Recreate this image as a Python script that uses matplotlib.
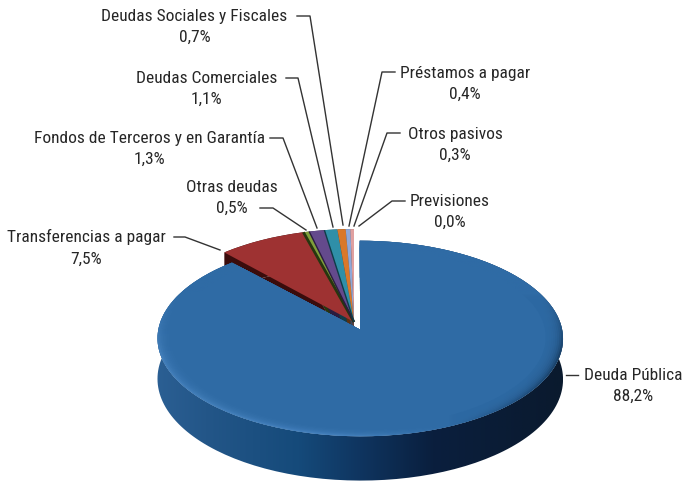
import numpy as np
import matplotlib
matplotlib.use("Agg")
from matplotlib import pyplot as plt
from matplotlib.colors import LinearSegmentedColormap, to_rgb
from matplotlib.patches import PathPatch, Polygon
from matplotlib.path import Path
from matplotlib.transforms import Transform
from matplotlib import font_manager

names = {f.name for f in font_manager.fontManager.ttflist}
narrow = "Roboto"
for n in ["Liberation Sans Narrow", "Roboto Condensed", "Open Sans Condensed", "Noto Sans Condensed"]:
    if n in names:
        narrow = n
        break
font_size = 12.5 if narrow != "Roboto" else 11.6

labels = ["Deuda Pública", "Transferencias a pagar", "Otras deudas",
          "Fondos de Terceros y en Garantía", "Deudas Comerciales",
          "Deudas Sociales y Fiscales", "Préstamos a pagar", "Otros pasivos", "Previsiones"]
values = [88.2, 7.5, 0.5, 1.3, 1.1, 0.7, 0.4, 0.3, 0.0]
colors = ["#2f6ba5", "#9e3232", "#7f9e3a", "#644a8c", "#2f8fa8", "#d9782a", "#8fa8d8", "#e0a0a0", "#c8d4e8"]
wall_colors = ["#173f6a", "#3a0c0c", "#26360f", "#2a1c40", "#103c48", "#5c3010", "#3c4860", "#604040", "#505868"]

# geometry of the fake 3d view, in pixels
x0, y0 = 354, 322
rx, depth = 200.5, 40
explode0 = 0.085


class Persp(Transform):
    input_dims = output_dims = 2

    def __init__(self, z=0, k=0.06, ry=98.5):
        super().__init__()
        self.z = z
        self.k = k
        self.ry = ry

    def transform_non_affine(self, xy):
        xy = np.asarray(xy, float)
        w = 1 + self.k * xy[:, 1]
        return np.column_stack([x0 + rx * xy[:, 0] / w, y0 + (self.z * depth - self.ry * xy[:, 1]) / w])


fig = plt.figure(figsize=(6.84, 4.83), dpi=100)
ax = fig.add_axes([0, 0, 1, 1])
explode = [explode0] + [0] * (len(values) - 1)
wedges, _ = ax.pie(values, explode=explode, colors=colors, startangle=90, counterclock=False,
                   radius=1, normalize=True, wedgeprops={"linewidth": 0})


def rim(w, r=1.0):
    t = np.radians(np.linspace(w.theta1, w.theta2, 200))
    cx, cy = w.center
    return np.column_stack([cx + r * np.cos(t), cy + r * np.sin(t)])


# side walls of the small slices first, the blue one covers most of it
base = Persp(0)
low = Persp(1)
for w, c in list(zip(wedges, wall_colors))[1:]:
    if w.theta2 - w.theta1 <= 0:
        continue
    top = np.vstack([[w.center], rim(w)])
    ring = np.vstack([base.transform(top), low.transform(top)[::-1]])
    ax.add_patch(Polygon(ring, closed=True, fc=c, ec="none", zorder=1))
    ax.add_patch(Polygon(low.transform(top), closed=True, fc=c, ec="none", zorder=1))

# blue slice sits a bit flatter at the back
blue = wedges[0]
blue_base = Persp(0, k=0.09, ry=95.6)
blue_low = Persp(1, k=0.09, ry=95.6)
p = rim(blue)
apex = np.array([blue.center])
wall = np.vstack([blue_base.transform(p), blue_low.transform(p)[::-1]])
wall_cm = LinearSegmentedColormap.from_list("w", [(0, "#2b5f93"), (0.12, "#235688"), (0.35, "#154a7a"),
                                                  (0.5, "#0f3560"), (0.68, "#0a1f3e"), (1, "#0a1a2e")])
grad = np.linspace(0, 1, 256)[None, :]
im = ax.imshow(grad, cmap=wall_cm, extent=[157, 563, 483, 240], aspect="auto", zorder=2)
clip = PathPatch(Path(wall), transform=ax.transData, fc="none", ec="none")
ax.add_patch(clip)
im.set_clip_path(clip)

# top faces, bevel only shows on the front half of the blue slice
for w in wedges:
    w.set_transform(Persp(0) + ax.transData)
    w.set_zorder(4)
    w.set_clip_on(False)
blue.set_transform(Persp(0, k=0.09, ry=95.6) + ax.transData)
blue.set_zorder(3)
bev_cm = LinearSegmentedColormap.from_list("b", [(0, "#4a86c2"), (0.45, "#4f8bc8"), (0.72, "#2f6ba5"),
                                                 (0.88, "#1d4a78"), (1, "#11304f")])
xs = np.linspace(0, 1, 256)
ys = np.linspace(0, 1, 256)
rgb = bev_cm(xs)[None, :, :3]
flat = np.array(to_rgb(colors[0]))
ramp = np.clip((ys - 0.22) / 0.25, 0, 1)[:, None, None]
img = flat * (1 - ramp) + rgb * ramp
bev = ax.imshow(img, extent=[157, 563, 483, 240], aspect="auto", zorder=3.1)
clip2 = PathPatch(Path(blue_base.transform(np.vstack([apex, p]))), transform=ax.transData, fc="none", ec="none")
ax.add_patch(clip2)
bev.set_clip_path(clip2)
radii = np.linspace(1.0, 0.915, 10)
for i, r in enumerate(radii):
    inner = np.vstack([apex, rim(blue, r=r)])
    ax.add_patch(Polygon(blue_base.transform(inner), closed=True, fc=colors[0], ec="none",
                         alpha=0.3, zorder=3.2 + i * 0.01))
ax.add_patch(Polygon(blue_base.transform(np.vstack([apex, rim(blue, r=radii[-1])])), closed=True,
                     fc=colors[0], ec="none", zorder=3.4))

# dark seams on the left edge of the small slices
for w, c, lw in zip(wedges[2:5], wall_colors[2:5], [2, 1, 1]):
    e = np.vstack([[w.center], rim(w)[-1:]])
    e = base.transform(e)
    ax.plot(e[:, 0], e[:, 1], color=c, lw=lw, zorder=4.5, solid_capstyle="butt")

# labels
pct = [f"{v:.1f}%".replace(".", ",") for v in values]
text_xy = [(633, 386), (86, 248), (232, 198), (149.5, 149), (206.5, 89), (194.5, 27), (465, 84), (455, 145), (450, 212)]
leaders = [[(578, 375), (566, 375)],
           [(174, 237), (185, 237), (220, 250)],
           [(260, 208), (273, 208), (306, 230)],
           [(270, 138), (283, 138), (317, 228)],
           [(286, 78), (298, 78), (333, 227)],
           [(297, 16), (310, 16), (343, 225)],
           [(395, 72), (382, 72), (349, 226)],
           [(400, 133), (387, 133), (354, 226)],
           [(405, 201), (392, 201), (359, 226)]]
for lab, pc, xy, pts in zip(labels, pct, text_xy, leaders):
    ax.text(xy[0], xy[1], lab + "\n" + pc, ha="center", va="center", fontsize=font_size,
            family=narrow, color="#262626", linespacing=1.55, zorder=6)
    pts = np.array(pts)
    ax.plot(pts[:, 0], pts[:, 1], color="#333333", lw=1, zorder=5, clip_on=False)

ax.set_aspect("auto")
ax.set_xlim(0, 684)
ax.set_ylim(483, 0)
ax.axis("off")

fig.savefig("out.png", dpi=100)
